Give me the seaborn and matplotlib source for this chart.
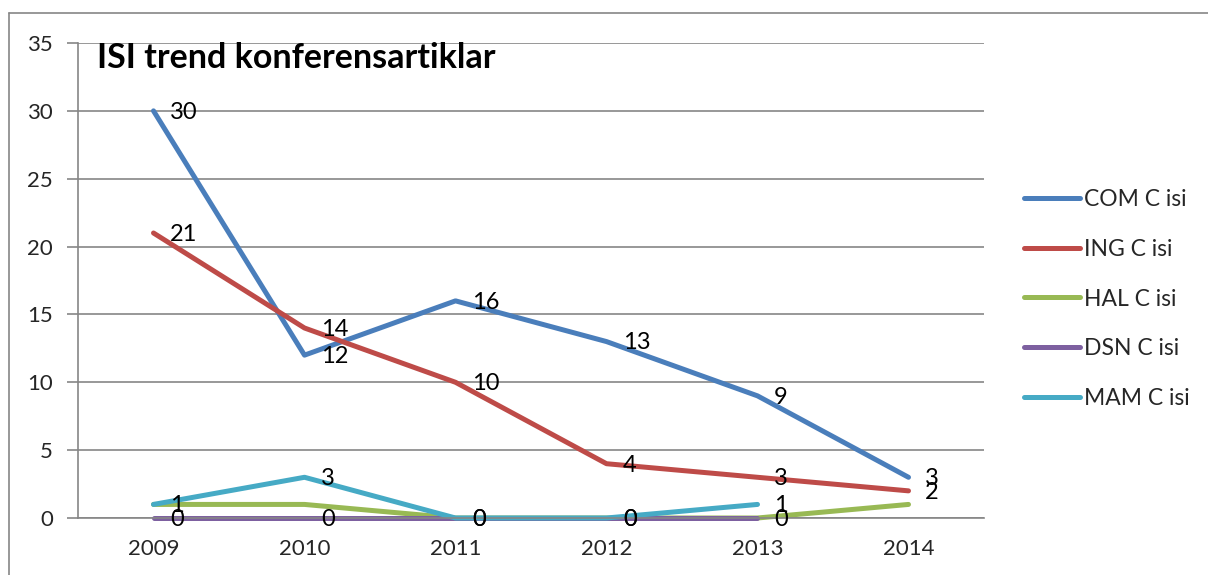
import numpy as np
import pandas as pd
import matplotlib
matplotlib.use("Agg")
import matplotlib.pyplot as plt
import seaborn as sns

years = ["2009", "2010", "2011", "2012", "2013", "2014"]
series_names = ["COM C isi", "ING C isi", "HAL C isi", "DSN C isi", "MAM C isi"]
com = [30, 12, 16, 13, 9, 3]
ing = [21, 14, 10, 4, 3, 2]
hal = [1, 1, 0, 0, 0, 1]
dsn = [0, 0, 0, 0, 0, np.nan]
mam = [1, 3, 0, 0, 1, np.nan]
labeled = ["COM C isi", "ING C isi", "DSN C isi", "MAM C isi"]
title = "ISI trend konferensartiklar"
colors = ["#4A7EBB", "#BE4B48", "#98B954", "#7D60A0", "#46AAC5"]

sns.set_theme(style="white")
plt.rcParams["font.family"] = ["Lato", "DejaVu Sans"]

values = [com, ing, hal, dsn, mam]
rows = []
for name, vals in zip(series_names, values):
    for i, v in enumerate(vals):
        rows.append({"series": name, "pos": i, "year": years[i], "value": v})
df = pd.DataFrame(rows).dropna()

fig = plt.figure(figsize=(12.08, 5.75), dpi=100)
ax = fig.add_axes([78 / 1208, 57 / 575, (984 - 78) / 1208, (518 - 43) / 575])

sns.lineplot(data=df, x="pos", y="value", hue="series", hue_order=series_names,
             palette=dict(zip(series_names, colors)), linewidth=3.6,
             sort=False, ax=ax, legend=True, solid_capstyle="round")
for ln in ax.get_lines():
    ln.set_clip_on(False)

for name in labeled:
    sub = df[df["series"] == name]
    for _, r in sub.iterrows():
        ax.annotate(f"{int(r['value'])}", (r["pos"], r["value"]), xytext=(12, -1),
                    textcoords="offset points", ha="left", va="center",
                    fontsize=17, color="black")

ax.set_xlim(-0.5, len(years) - 0.5)
ax.set_ylim(0, 35)
ax.set_yticks(range(0, 36, 5))
ax.set_xticks(range(len(years)))
ax.set_xticklabels(years)
ax.set_xticks(np.arange(-0.5, len(years), 1.0), minor=True)
ax.tick_params(axis="x", which="major", length=0, pad=15, labelsize=16)
ax.tick_params(axis="x", which="minor", length=6, width=1.2, color="#868686", direction="out")
ax.tick_params(axis="y", which="major", length=8, width=1.2, color="#868686", direction="out",
               pad=10, labelsize=16, left=True)
ax.grid(axis="y", color="#868686", linewidth=1.2)
ax.set_axisbelow(True)
for s in ["top", "right"]:
    ax.spines[s].set_visible(False)
for s in ["left", "bottom"]:
    ax.spines[s].set_color("#868686")
    ax.spines[s].set_linewidth(1.2)
ax.set_xlabel("")
ax.set_ylabel("")

ax.text(0.021, 1.003, title, transform=ax.transAxes, fontsize=24.5, fontweight="bold",
        ha="left", va="top", color="black")

handles, labels = ax.get_legend_handles_labels()
leg = ax.legend(handles, labels, loc="center left", bbox_to_anchor=(1003 / 1208, 1 - 299 / 575),
                bbox_transform=fig.transFigure, frameon=False, fontsize=16.5,
                handlelength=2.45, handletextpad=0.2, labelspacing=1.25)
for h in leg.get_lines():
    h.set_linewidth(3.6)

fig.add_artist(plt.Line2D([9 / 1208, 9 / 1208], [0, 1 - 13 / 575], color="#868686", linewidth=1.2))
fig.add_artist(plt.Line2D([9 / 1208, 1], [1 - 13 / 575, 1 - 13 / 575], color="#868686", linewidth=1.2))

fig.savefig("out.png", dpi=100, facecolor="white")
